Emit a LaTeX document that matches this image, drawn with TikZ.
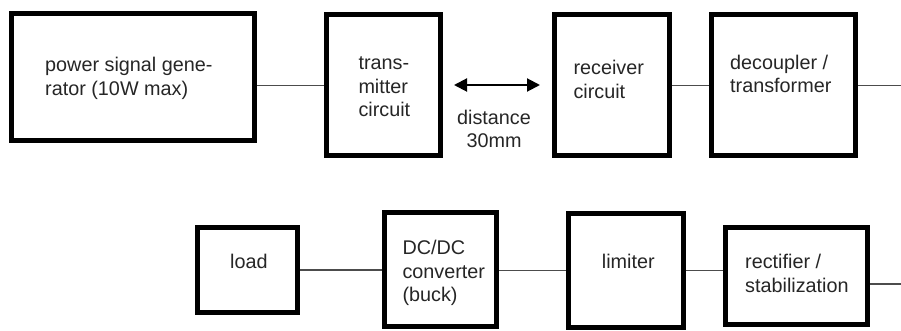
\documentclass[tikz,border=0pt]{standalone}
\usepackage{fontspec}
\setmainfont{Liberation Sans}
\usetikzlibrary{arrows.meta}
\tikzset{
  box/.style={draw=black, line width=5pt, inner sep=0pt, fill=white},
  lbl/.style={inner sep=0pt, align=left, text=black!85, font=\fontsize{19.8}{23.5}\selectfont},
  conn/.style={draw=black!70, line width=1.3pt},
  dist/.style={line width=2pt, {Triangle[length=13pt,width=13pt]}-{Triangle[length=13pt,width=13pt]}}
}
\begin{document}
\begin{tikzpicture}[x=1pt,y=-1pt]
\useasboundingbox (0,0) rectangle (901,331);
% top row boxes
\node[box, minimum width=242.5pt, minimum height=127.5pt] (gen) at (132.75,77.25) {};
\node[box, minimum width=113.5pt, minimum height=140.5pt] (tx) at (383.25,85.25) {};
\node[box, minimum width=114.5pt, minimum height=140.5pt] (rx) at (611.75,85.25) {};
\node[box, minimum width=143.3pt, minimum height=140.5pt] (dec) at (783.35,85.25) {};
% bottom row boxes
\node[box, minimum width=99.7pt, minimum height=85pt] (load) at (247.65,270) {};
\node[box, minimum width=112.2pt, minimum height=114pt] (dcdc) at (440.6,269) {};
\node[box, minimum width=115pt, minimum height=114.2pt] (lim) at (625.8,270.4) {};
\node[box, minimum width=142pt, minimum height=97.5pt] (rect) at (796.8,275.75) {};
% labels (anchor = baseline of the last line)
\node[lbl, anchor=base west] (gent) at (45,95.5) {power signal gene-\\rator (10W max)};
\node[lbl, anchor=base west] (txt) at (358.3,116.7) {trans-\\mitter\\circuit};
\node[lbl, anchor=base west] (rxt) at (573.3,98.3) {receiver\\circuit};
\node[lbl, anchor=base west] (dect) at (730,92.8) {decoupler /\\transformer};
\node[lbl, anchor=base west] (loadt) at (230,268.3) {load};
\node[lbl, anchor=base west] (dcdct) at (402.3,301.5) {DC/DC\\converter\\(buck)};
\node[lbl, anchor=base west] (limt) at (601.7,268.3) {limiter};
\node[lbl, anchor=base west] (rectt) at (745,292) {rectifier /\\stabilization};
\node[lbl, align=center, anchor=base] (distt) at (494,148) {distance\\30mm};
% connectors
\coordinate (topout) at (901,85.25);
\coordinate (botout) at (901,284);
\coordinate (arrL) at (454,85);
\coordinate (arrR) at (540,85);
\draw[conn] (gen.east |- tx.west) -- (tx.west);
\draw[conn] (rx.east) -- (dec.west);
\draw[conn] (dec.east) -- (topout);
\draw[conn] (load.east) -- (load.east -| dcdc.west);
\draw[conn] (dcdc.east |- lim.west) -- (lim.west);
\draw[conn] (lim.east) -- (lim.east -| rect.west);
\draw[conn] (rect.east |- botout) -- (botout);
\draw[dist] (arrL) -- (arrR);
\end{tikzpicture}
\end{document}
